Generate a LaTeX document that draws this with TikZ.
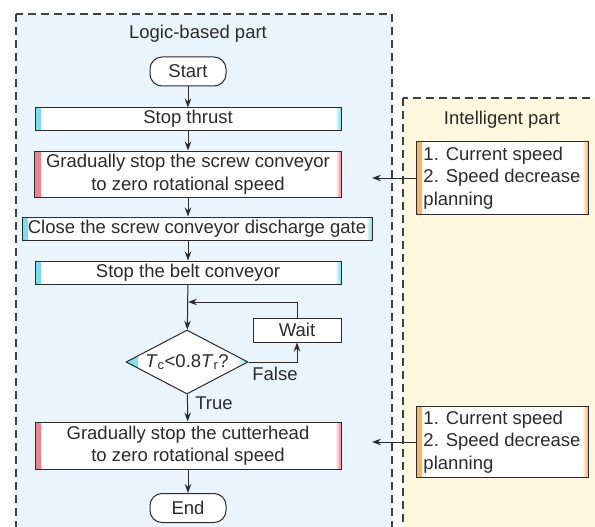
\documentclass[tikz,border=0pt]{standalone}
\usepackage{fontspec}
\setmainfont{Liberation Sans}
\usetikzlibrary{arrows.meta,shapes.geometric}
\definecolor{lgink}{HTML}{2B2B2B}
\definecolor{lgblue}{HTML}{EAF4FC}
\definecolor{lgyellow}{HTML}{FFF8DE}
\definecolor{edcyan}{HTML}{7ADCEE}
\definecolor{edred}{HTML}{EC8590}
\definecolor{edorange}{HTML}{F6B460}

\begin{document}
\begin{tikzpicture}[x=1pt, y=-1pt, font=\fontsize{18.5}{22.5}\selectfont, text=lgink,
    region/.style={draw=lgink!90, line width=1.1pt, dash pattern=on 8pt off 5pt},
    flow/.style={draw=lgink, line width=1pt, -{Stealth[length=9pt, width=6.5pt]}},
    plainbox/.style={draw=lgink, line width=1pt, fill=white, inner sep=0pt},
    edgebox/.style={plainbox, align=center,
      path picture={
        \shade[left color=#1, right color=white] (path picture bounding box.south west)
          rectangle ([xshift=6pt]path picture bounding box.north west);
        \shade[left color=white, right color=#1] ([xshift=-6pt]path picture bounding box.south east)
          rectangle (path picture bounding box.north east);
      }},
    terminal/.style={plainbox, rounded corners=12pt, minimum width=76pt, minimum height=29pt},
    decision/.style={plainbox, diamond, aspect=1.9, minimum width=122pt, minimum height=64pt,
      path picture={
        \shade[left color=edcyan, right color=white] (path picture bounding box.south west)
          rectangle ([xshift=12pt]path picture bounding box.north west);
        \shade[left color=white, right color=edcyan] ([xshift=-12pt]path picture bounding box.south east)
          rectangle (path picture bounding box.north east);
      }},
  ]
  \useasboundingbox (0,0) rectangle (595,527);
  \clip (0,0) rectangle (595,527);

  % the two parts, both running off the bottom edge
  \draw[region, fill=lgblue] (16,14) rectangle (392,545);
  \draw[region, fill=lgyellow] (403,98) rectangle (615,545);

  % logic-based part
  \node (logic) at (198,34) {Logic-based part};
  \node[terminal] (start) at (188,71.5) {Start};
  \node[edgebox=edcyan, minimum width=306pt, minimum height=22pt] (thrust) at (188,119) {Stop thrust};
  \node[edgebox=edred, minimum width=307pt, minimum height=46pt] (screw) at (188,174)
    {Gradually stop the screw conveyor\\to zero rotational speed};
  \node[edgebox=edcyan, minimum width=350pt, minimum height=23pt] (gate) at (197,228.5)
    {Close the screw conveyor discharge gate};
  \node[edgebox=edcyan, minimum width=306pt, minimum height=23pt] (belt) at (188,272.5) {Stop the belt conveyor};
  \node[decision] (check) at (187,362) {\textit{T}\textsubscript{c}<0.8\textit{T}\textsubscript{r}?};
  \node[plainbox, minimum width=88pt, minimum height=24pt] (wait) at (297,330) {Wait};
  \node[edgebox=edred, minimum width=306pt, minimum height=47pt] (cutter) at (188,445.5)
    {Gradually stop the cutterhead\\to zero rotational speed};
  \node[terminal] (end) at (188,508) {End};
  \node (false) at (275,374) {False};
  \node (true) at (214,403) {True};
  \coordinate (loopin) at (188,302);

  \draw[flow] (start) -- (thrust);
  \draw[flow] (thrust) -- (screw);
  \draw[flow] (screw) -- (screw |- gate.north);
  \draw[flow] (gate.south -| belt) -- (belt);
  \draw[flow] (belt) -- (check);
  \draw[flow] (wait.north) |- (loopin);
  \draw[flow] (check.east) -| (wait.south);
  \draw[flow] (check) -- (cutter);
  \draw[flow] (cutter) -- (end);

  % intelligent part
  \node (intel) at (502,120) {Intelligent part};
  \node[edgebox=edorange, align=left, minimum width=172pt, minimum height=73pt] (info1) at (502,178)
    {1. Current speed\\2. Speed decrease\\planning};
  \node[edgebox=edorange, align=left, minimum width=172pt, minimum height=71pt] (info2) at (502,442)
    {1. Current speed\\2. Speed decrease\\planning};
  \coordinate (fb1) at (372,178);
  \coordinate (fb2) at (372,442);

  \draw[flow] (info1.west) -- (fb1);
  \draw[flow] (info2.west) -- (fb2);
\end{tikzpicture}
\end{document}
